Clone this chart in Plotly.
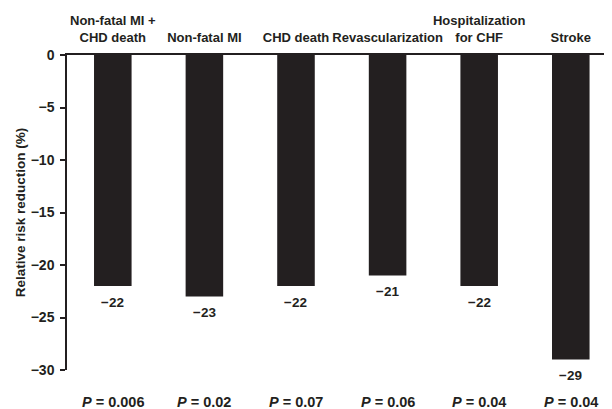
import plotly.graph_objects as go

categories = ["Non-fatal MI +<br>CHD death", "Non-fatal MI", "CHD death",
              "Revascularization", "Hospitalization<br>for CHF", "Stroke"]
values = [-22, -23, -22, -21, -22, -29]
p_values = ["0.006", "0.02", "0.07", "0.06", "0.04", "0.04"]
y_ticks = [0, -5, -10, -15, -20, -25, -30]
y_ticktext = ["0", "\u22125", "\u221210", "\u221215", "\u221220", "\u221225", "\u221230"]

FONT = "Arial, Liberation Sans, Helvetica, sans-serif"
INK = "#231f20"

fig = go.Figure()
fig.add_trace(go.Bar(
    x=categories, y=values,
    marker=dict(color=INK, line=dict(width=0)),
    width=0.41,
    cliponaxis=False,
))

for c, v in zip(categories, values):
    fig.add_annotation(x=c, y=v, xref="x", yref="y",
                       text="<b>\u2212" + str(abs(v)) + "</b>", showarrow=False,
                       yanchor="middle", yshift=-16,
                       font=dict(family=FONT, size=13.5, color=INK))

for c, p in zip(categories, p_values):
    fig.add_annotation(x=c, y=-0.1, xref="x", yref="paper",
                       text="<b><i>P</i> = " + p + "</b>", showarrow=False,
                       yanchor="middle",
                       font=dict(family=FONT, size=14.5, color=INK))

# page body adds an 8px offset, so the figure is sized to fit the window
fig.update_layout(
    width=604, height=401,
    margin=dict(l=59, r=0, t=47, b=39),
    paper_bgcolor="white", plot_bgcolor="white",
    showlegend=False,
    font=dict(family=FONT, size=13, color=INK),
    xaxis=dict(side="top", range=[-0.5, 5.45], showline=True, linecolor=INK,
               linewidth=1.5, ticks="", showgrid=False, zeroline=False,
               automargin=False, ticklabelstandoff=6,
               tickfont=dict(family=FONT, size=13, color=INK),
               tickvals=categories,
               ticktext=["<b>" + c + "</b>" for c in categories],
               tickangle=0),
    yaxis=dict(range=[-30, 0], tickvals=y_ticks,
               ticktext=["<b>" + t + "</b>" for t in y_ticktext],
               showline=True, linecolor=INK, linewidth=1.5,
               ticks="outside", ticklen=5, tickwidth=1.5, tickcolor=INK,
               showgrid=False, zeroline=False, automargin=False,
               ticklabelstandoff=3,
               tickfont=dict(family=FONT, size=14, color=INK),
               title=dict(text="<b>Relative risk reduction (%)</b>",
                          font=dict(family=FONT, size=13.5, color=INK),
                          standoff=2)),
)

fig.write_html("out.html")
